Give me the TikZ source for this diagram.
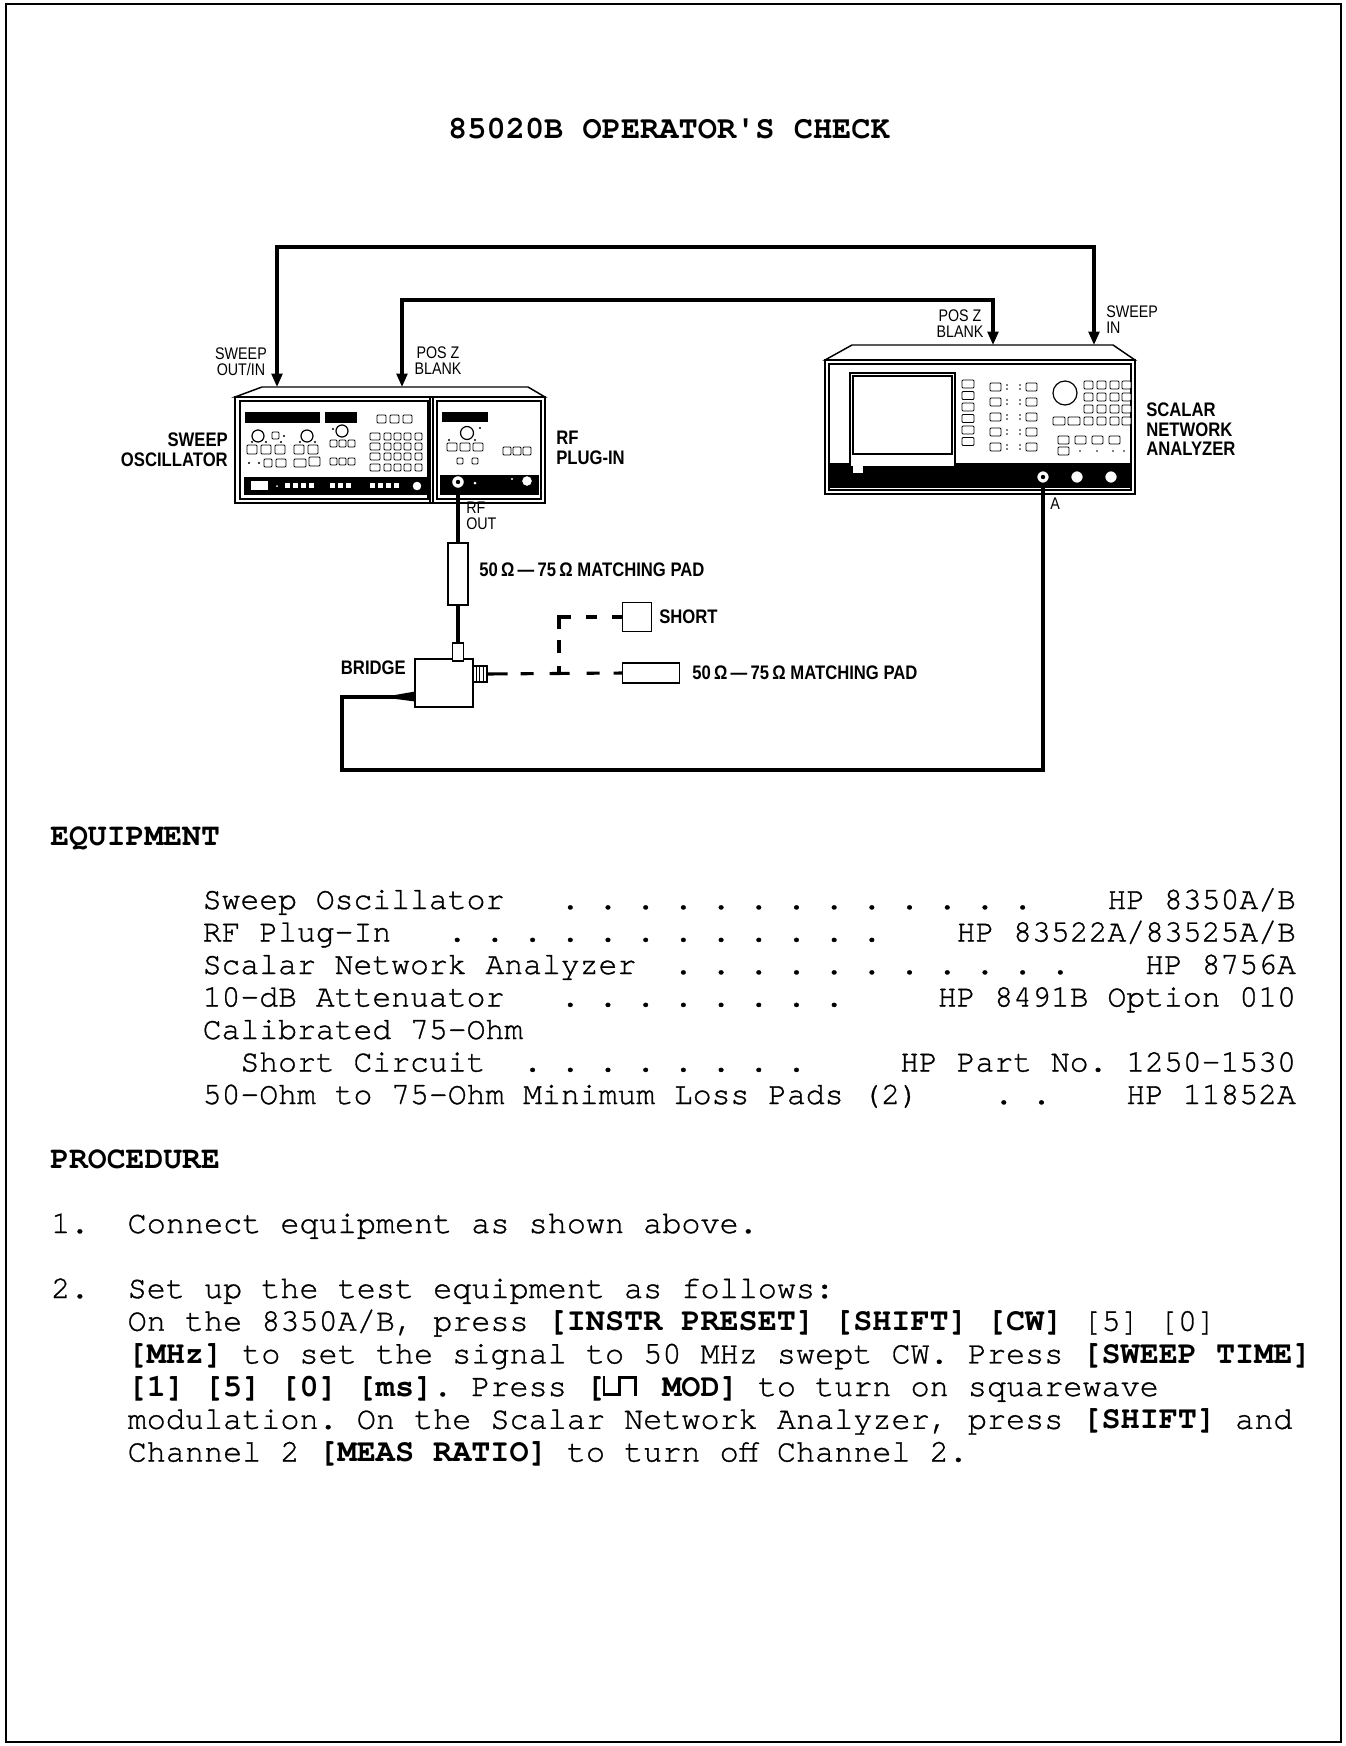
\documentclass[tikz,border=0pt]{standalone}
\usepackage{fontspec}
\usetikzlibrary{arrows.meta}
\newfontfamily\monofnt{texgyrecursor}[Extension=.otf, UprightFont=*-regular, BoldFont=*-bold, UprightFeatures={FakeBold=1}]
\newfontfamily\lblfnt[FakeStretch=0.85]{Liberation Sans}
\frenchspacing
\newcommand\eqfont{\monofnt\fontsize{23.56}{24}\selectfont}
\newcommand\prfont{\monofnt\fontsize{23.87}{24}\selectfont}
\newcommand\lfsmall{\lblfnt\fontsize{12.6}{12}\selectfont}
\newcommand\lfbold{\lblfnt\bfseries\fontsize{14.7}{14.6}\selectfont}
\newcommand\sqwave{\rule{0.08em}{0.62em}\rule{0.42em}{0.08em}\rule{0.08em}{0.62em}\raisebox{0.54em}{\rule{0.42em}{0.08em}}\rule{0.08em}{0.62em}}
\tikzset{
  wire/.style={line width=2.3pt},
  sig/.style={wire, {Triangle[length=10pt,width=8pt]}-{Triangle[length=10pt,width=8pt]}},
  dev/.style={draw, line width=1.1pt, fill=white},
  pnl/.style={draw, line width=0.8pt},
  btn/.style={draw, line width=0.7pt, fill=white, rounded corners=0.8pt},
  txt/.style={font=\eqfont, inner sep=0pt, anchor=base west},
  ptxt/.style={font=\prfont, inner sep=0pt, anchor=base west},
  slbl/.style={font=\lfsmall, inner sep=0pt},
  blbl/.style={font=\lfbold, inner sep=0pt},
  partbox/.style={draw, line width=1.1pt, fill=white, inner sep=0pt},
}
\begin{document}
\begin{tikzpicture}[x=0.75pt,y=-0.75pt]
\useasboundingbox (0,0) rectangle (1346,1746);
\draw[line width=1.4pt] (6,4) rectangle (1341,1742);

\node[inner sep=0pt, anchor=base, font=\monofnt\bfseries\fontsize{24}{24}\selectfont] (title) at (669,138) {85020B OPERATOR\textquotesingle S CHECK};

% ---------------- sweep oscillator + plug-in
\draw[dev] (235,397) -- (262,387) -- (528,387) -- (545,397) -- cycle;
\draw[dev] (235,397) rectangle (545,503);
\draw[pnl] (240,401) rectangle (428,499);
\draw[pnl] (430,397) -- (430,503) (433,397) -- (433,503);
\draw[pnl] (437,401) rectangle (541,499);
\fill (245,412) rectangle (320,423);
\fill (325,412) rectangle (357,423);
\foreach \x in {377,390,403} \draw[btn] (\x,415) rectangle ++(9,8);
\foreach \x/\y in {258/436,307/436,342/431} \draw[line width=0.9pt] (\x,\y) circle[radius=6];
\draw[btn] (272,432) rectangle ++(7,7); \fill (284,436) circle[radius=1.2];
\fill (333,429) circle[radius=1.2];
\foreach \x in {252,266,281,300,315} \fill (\x,442) circle[radius=1.1];
\foreach \x in {247,261,275,294,308} \draw[btn] (\x,445) rectangle ++(10,9);
\foreach \x in {330,339,348} {\draw[btn] (\x,440) rectangle ++(7,7); \draw[btn] (\x,458) rectangle ++(7,7);}
\fill (249,463) circle[radius=1.1]; \fill (259,463) circle[radius=1.1];
\draw[btn] (264,459) rectangle ++(8,8); \draw[btn] (276,459) rectangle ++(10,8);
\draw[btn] (294,459) rectangle ++(12,8); \draw[btn] (309,457) rectangle ++(11,9);
\foreach \y in {433,443,453,464} {
  \draw[btn] (370,\y) rectangle ++(10,7);
  \foreach \x in {384,394,404,415} \draw[btn] (\x,\y) rectangle ++(7,7);
}
\fill (244,477) rectangle (427,495);
\fill[white] (251,481) rectangle (268,490);
\foreach \x in {285,293,301,309,330,338,346,370,378,386,394} \fill[white] (\x,483) rectangle ++(5,5);
\fill[white] (277,486) circle[radius=1];
\draw[fill=white, line width=0.8pt] (417,486) circle[radius=5];
% plug-in
\fill (442,412) rectangle (488,422);
\draw[line width=0.9pt] (467,433) circle[radius=6.5]; \fill (480,428) circle[radius=1.2];
\foreach \x in {449,475} \fill (\x,440) circle[radius=1.1];
\foreach \x in {447,460,473} \draw[btn] (\x,443) rectangle ++(10,8);
\foreach \x in {457,472} \draw[btn] (\x,458) rectangle ++(6,6);
\foreach \x in {503,513,523} \draw[btn] (\x,447) rectangle ++(8,8);
\fill (440,475) rectangle (539,495);
\fill[white] (475,483) circle[radius=1.5];
\fill[white] (512,479) circle[radius=1.2];
\draw[fill=white, line width=0.8pt] (527,481) circle[radius=5.5];

% ---------------- scalar network analyzer
\draw[dev] (825,360) -- (852,345) -- (1113,345) -- (1135,360) -- cycle;
\draw[dev] (825,360) rectangle (1135,494);
\draw[pnl] (829,364) rectangle (1131,490);
\fill (829,463) rectangle (1131,488);
\draw[pnl, fill=white] (850,373) rectangle (955,467);
\draw[pnl] (853,376) rectangle (952,454);
\foreach \y in {380,391.5,403,414.5,426,437.5} \draw[btn] (962,\y) rectangle ++(12,8);
\foreach \y in {383,398,413,428,443} {
  \draw[btn] (990,\y) rectangle ++(11,8);
  \draw[btn] (1026,\y) rectangle ++(11,8);
  \fill (1007,\y+2) circle[radius=0.9]; \fill (1007,\y+6) circle[radius=0.9];
  \fill (1020,\y+2) circle[radius=0.9]; \fill (1020,\y+6) circle[radius=0.9];
}
\draw[line width=0.9pt] (1065,393) circle[radius=12];
\foreach \x in {1084,1097,1110,1122} \foreach \y in {381,393,405,417} \draw[btn] (\x,\y) rectangle ++(9,8);
\draw[btn] (1053,417) rectangle ++(12,8); \draw[btn] (1068,417) rectangle ++(12,8);
\foreach \x in {1058,1075,1092,1109} \draw[btn] (\x,436) rectangle ++(11,8);
\draw[btn] (1058,447) rectangle ++(11,8);
\foreach \x in {1080,1097,1113,1124} \fill (\x,451) circle[radius=0.9];
\fill[white] (853,466) rectangle (863,473);

% ---------------- named ports
\coordinate (soSweep) at (277,387);
\coordinate (soPosZ) at (402,387);
\coordinate (soRF) at (458,482);
\coordinate (anPosZ) at (993,345);
\coordinate (anSweep) at (1094,345);
\coordinate (anA) at (1043,477);
\coordinate (w1) at (277,247);
\coordinate (w2) at (402,300);
\coordinate (bw1) at (342,770);
\coordinate (brIn) at (415,697);

% ---------------- parts
\node[partbox, minimum width=15pt, minimum height=46.5pt] (pad1) at (458,574) {};
\node[partbox, minimum width=43.5pt, minimum height=36pt] (bridge) at (444,683) {};
\node[partbox, minimum width=8.25pt, minimum height=13.5pt] (rfc) at (458,652) {};
\node[partbox, minimum width=10.5pt, minimum height=12pt] (sc) at (480,674) {};
\foreach \x in {476,479.5,483} \draw[line width=0.6pt] (\x,667) -- (\x,681);
\node[partbox, minimum width=21.75pt, minimum height=21.75pt] (short) at (637,617) {};
\node[partbox, minimum width=42.75pt, minimum height=15pt] (pad2) at (651,673) {};
\coordinate (jn) at (559,674);

% ---------------- connectors
\draw[sig] (soSweep) -- (w1) -| (anSweep);
\draw[sig] (soPosZ) -- (w2) -| (anPosZ);
\draw[wire] (soRF) -- (pad1.north);
\draw[wire] (pad1.south) -- (rfc.north);
\draw[wire] (anA) |- (bw1) |- (brIn);
\fill (392,695.5) -- (415,691.5) -- (415,701.5) -- (392,698.5) -- cycle;
\draw[wire, dash pattern=on 15pt off 9.75pt on 9.75pt off 12pt on 15pt off 12.75pt on 9.75pt off 10.5pt on 20pt off 0pt] (sc.east) -- (pad2.west);
\draw[wire, dash pattern=on 6pt off 9.75pt on 9.75pt off 8.25pt on 18pt off 11.25pt on 8.25pt off 11.25pt on 20pt off 0pt] (jn) |- (short.west);

\draw[line width=1pt, fill=white] (soRF) circle[radius=6.5]; \fill (soRF) circle[radius=2.2];
\foreach \x in {1043,1077,1111} \draw[line width=1.2pt, fill=white] (\x,477) circle[radius=6.5];
\fill (anA) circle[radius=2.2];

% ---------------- diagram labels
\node[slbl, align=center, anchor=north] (lSweepOut) at (241,347) {SWEEP\\OUT/IN};
\node[slbl, align=center, anchor=north] (lPosZa) at (438,346) {POS Z\\BLANK};
\node[slbl, align=center, anchor=north] (lPosZb) at (960,309) {POS Z\\BLANK};
\node[slbl, align=left, anchor=north west] (lSweepIn) at (1106,305) {SWEEP\\IN};
\node[slbl, align=left, anchor=north west] (lRFout) at (466,502) {RF\\OUT};
\node[slbl, anchor=base west] (lA) at (1050,509) {A};
\node[blbl, align=right, anchor=north east] (lSO) at (228,433) {SWEEP\\OSCILLATOR};
\node[blbl, align=left, anchor=north west] (lRF) at (556,431) {RF\\PLUG-IN};
\node[blbl, align=left, anchor=north west] (lSNA) at (1146,403) {SCALAR\\NETWORK\\ANALYZER};
\node[blbl, anchor=base east] (lBr) at (406,674) {BRIDGE};
\node[blbl, anchor=base west] (lSh) at (659,623) {SHORT};
\node[blbl, anchor=base west] (lP1) at (479,576) {50\,Ω\,—\,75\,Ω MATCHING PAD};
\node[blbl, anchor=base west] (lP2) at (692,679) {50\,Ω\,—\,75\,Ω MATCHING PAD};

% ---------------- equipment
\node[txt] (eqHead) at (50,845) {\bfseries EQUIPMENT};
\node[txt] (eq1) at (202.5,909) {Sweep~Oscillator~~~.~.~.~.~.~.~.~.~.~.~.~.~.~~~~HP~8350A/B};
\node[txt] (eq2) at (202.5,941.5) {RF~Plug-In~~~.~.~.~.~.~.~.~.~.~.~.~.~~~~HP~83522A/83525A/B};
\node[txt] (eq3) at (202.5,974) {Scalar~Network~Analyzer~~.~.~.~.~.~.~.~.~.~.~.~~~~HP~8756A};
\node[txt] (eq4) at (202.5,1006.5) {10-dB~Attenuator~~~.~.~.~.~.~.~.~.~~~~~HP~8491B~Option~010};
\node[txt] (eq5) at (202.5,1039) {Calibrated~75-Ohm};
\node[txt] (eq6) at (202.5,1071.5) {~~Short~Circuit~~.~.~.~.~.~.~.~.~~~~~HP~Part~No.~1250-1530};
\node[txt] (eq7) at (202.5,1104) {50-Ohm~to~75-Ohm~Minimum~Loss~Pads~(2)~~~~.~.~~~~HP~11852A};

% ---------------- procedure
\node[txt] (prHead) at (50,1168) {\bfseries PROCEDURE};
\node[ptxt] (pr1) at (51,1233) {1.~~Connect~equipment~as~shown~above.};
\node[ptxt] (pr2) at (51,1298) {2.~~Set~up~the~test~equipment~as~follows:};
\node[ptxt] (pr3) at (127.4,1330.7) {On~the~8350A/B,~press~\textbf{[INSTR~PRESET]}~\textbf{[SHIFT]}~\textbf{[CW]}~[5]~[0]};
\node[ptxt] (pr4) at (127.4,1363.4) {\textbf{[MHz]}~to~set~the~signal~to~50~MHz~swept~CW.~Press~\textbf{[SWEEP~TIME]}};
\node[ptxt] (pr5) at (127.4,1396) {\textbf{[1]~[5]~[0]~[ms]}.~Press~\textbf{[\makebox[1.8em][l]{\hspace{-0.08em}\sqwave}MOD]}~to~turn~on~squarewave};
\node[ptxt] (pr6) at (127.4,1428.8) {modulation.~On~the~Scalar~Network~Analyzer,~press~\textbf{[SHIFT]}~and};
\node[ptxt] (pr7) at (127.4,1461.5) {Channel~2~\textbf{[MEAS~RATIO]}~to~turn~off~Channel~2.};
\end{tikzpicture}
\end{document}
